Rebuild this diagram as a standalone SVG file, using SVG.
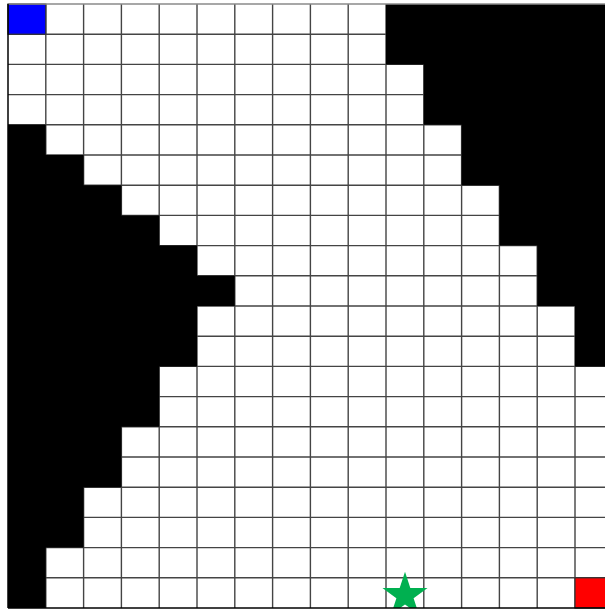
<svg xmlns="http://www.w3.org/2000/svg" width="605" height="611" viewBox="0 0 605 611">
  <defs>
    <clipPath id="plot"><rect x="8" y="4" width="597" height="604"/></clipPath>
    <style>
      .grid { stroke: #444444; stroke-width: 1.4; fill: none; }
      .wall { fill: #000000; }
    </style>
  </defs>
  <rect x="0" y="0" width="605" height="611" fill="#ffffff"/>
  <g id="grid-lines" class="grid">
    <path d="M45.8 4V608 M83.6 4V608 M121.4 4V608 M159.2 4V608 M197 4V608 M234.8 4V608 M272.6 4V608 M310.4 4V608 M348.2 4V608 M386 4V608 M423.8 4V608 M461.6 4V608 M499.4 4V608 M537.2 4V608 M575 4V608"/>
    <path d="M8 34.2H605 M8 64.4H605 M8 94.6H605 M8 124.8H605 M8 155H605 M8 185.2H605 M8 215.4H605 M8 245.6H605 M8 275.8H605 M8 306H605 M8 336.2H605 M8 366.4H605 M8 396.6H605 M8 426.8H605 M8 457H605 M8 487.2H605 M8 517.4H605 M8 547.6H605 M8 577.8H605"/>
  </g>
  <g id="walls" class="wall">
    <polygon points="386,4 605,4 605,366.4 575,366.4 575,306 537.2,306 537.2,245.6 499.4,245.6 499.4,185.2 461.6,185.2 461.6,124.8 423.8,124.8 423.8,64.4 386,64.4"/>
    <polygon points="8,124.8 45.8,124.8 45.8,155 83.6,155 83.6,185.2 121.4,185.2 121.4,215.4 159.2,215.4 159.2,245.6 197,245.6 197,275.8 234.8,275.8 234.8,306 197,306 197,366.4 159.2,366.4 159.2,426.8 121.4,426.8 121.4,487.2 83.6,487.2 83.6,547.6 45.8,547.6 45.8,608 8,608"/>
  </g>
  <g id="start">
    <rect x="8" y="4" width="37.8" height="30.2" fill="#0000ff" stroke="#333333" stroke-width="1.2"/>
  </g>
  <g id="goal">
    <rect x="575" y="577.8" width="31" height="30.2" fill="#ff0000" stroke="#333333" stroke-width="1.2"/>
  </g>
  <g id="star" clip-path="url(#plot)">
    <polygon fill="#00b050" points="405,571.7 410.32,588.08 427.54,588.08 413.61,598.2 418.93,614.57 405,604.45 391.07,614.57 396.39,598.2 382.46,588.08 399.68,588.08"/>
  </g>
  <g id="border">
    <line x1="8" y1="4" x2="605" y2="4" stroke="#8a8a8a" stroke-width="1.5"/>
    <line x1="8" y1="4" x2="8" y2="608" stroke="#000000" stroke-width="1.5"/>
    <line x1="8" y1="608" x2="605" y2="608" stroke="#000000" stroke-width="1.5"/>
  </g>
</svg>
